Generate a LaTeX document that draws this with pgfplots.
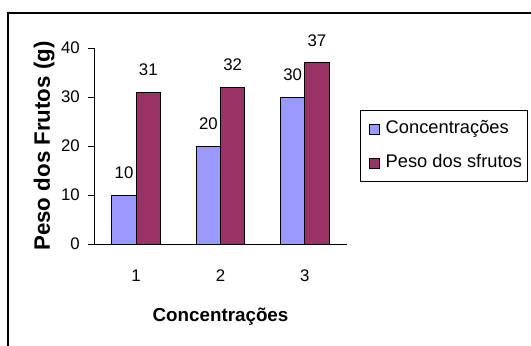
\documentclass[border=0pt]{standalone}
\usepackage{pgfplots}
\pgfplotsset{compat=1.18}
\usepackage{fontspec}
\setmainfont{Liberation Sans}
\definecolor{barblue}{HTML}{9999FF}
\definecolor{barplum}{HTML}{993366}
\newcommand{\chartnumfont}{\fontsize{16.8bp}{18bp}\selectfont}
\begin{document}
\begin{tikzpicture}[x=1bp,y=1bp]
% chart frame (runs off the page on the right and bottom)
\draw[line width=2bp] (8,-13) rectangle (600,-420);
\begin{axis}[
  at={(94bp,-244bp)}, anchor=south west,
  scale only axis, width=253bp, height=196bp,
  xmin=0.5, xmax=3.5, ymin=0, ymax=40,
  axis x line*=bottom, axis y line*=left,
  axis line style={line width=0.8bp, black},
  ybar=0pt, bar width=24.3bp,
  /pgf/number format/assume math mode=true,
  tick align=outside, major tick length=6bp,
  tick style={line width=0.8bp, black},
  ytick={0,10,20,30,40},
  xtick={1,2,3}, xtick style={draw=none},
  extra x ticks={0.5,1.5,2.5,3.5}, extra x tick labels={},
  extra x tick style={tick style={line width=0.8bp, black}},
  tick label style={font=\chartnumfont},
  yticklabel style={inner sep=0pt, xshift=-8bp},
  xticklabel style={inner sep=0pt, yshift=-20bp},
  xlabel={Concentrações},
  ylabel={Peso dos Frutos (g)},
  xlabel style={font=\fontsize{18.8bp}{20bp}\selectfont\bfseries,
    at={(axis description cs:0.5,-0.393)}, anchor=base},
  ylabel style={font=\fontsize{22.3bp}{24bp}\selectfont\bfseries,
    at={(axis description cs:-0.174,0.5)}, anchor=base},
  nodes near coords,
  every node near coord/.append style={font=\chartnumfont, inner sep=0pt, anchor=south, yshift=16bp},
  legend style={at={(axis description cs:1.0514,0.6837)}, anchor=north west,
    draw=black, line width=0.8bp, font=\fontsize{18.3bp}{20bp}\selectfont,
    inner xsep=5.5bp, inner ysep=10bp, row sep=17bp,
    nodes={inner sep=0pt, text height=13bp, text depth=4bp},
    column sep=6bp},
  legend cell align=left,
  legend image code/.code={\path (0bp,0bp);\draw[#1, line width=0.8bp] (3bp,-5bp) rectangle (13bp,5bp);},
]
\addplot[fill=barblue, draw=black, line width=0.8bp] coordinates {(1,10) (2,20) (3,30)};
\addplot[fill=barplum, draw=black, line width=0.8bp] coordinates {(1,31) (2,32) (3,37)};
\legend{Concentrações, Peso dos sfrutos}
\end{axis}
\pgfresetboundingbox
\path[use as bounding box] (0,0) rectangle (531,-345);
\end{tikzpicture}
\end{document}
